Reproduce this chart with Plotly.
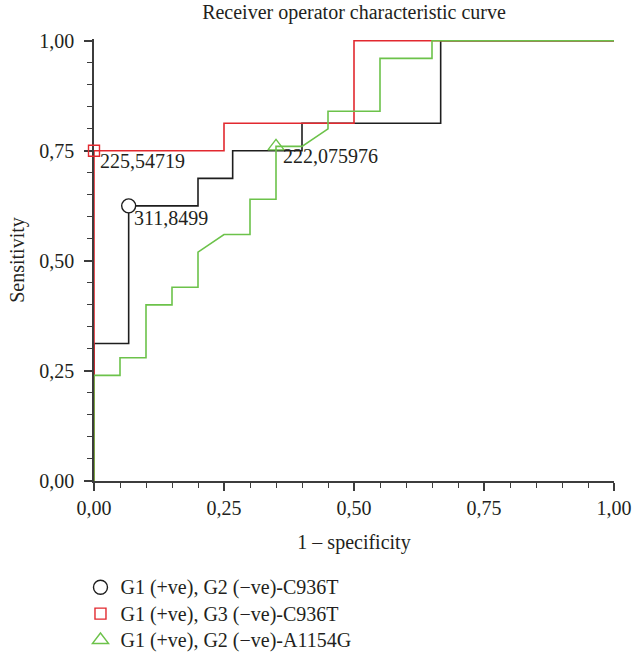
import plotly.graph_objects as go

# ROC curve vertices (1 - specificity, sensitivity)
black_fpr = [0, 0, 1/15, 1/15, 0.2, 0.2, 4/15, 4/15, 0.4, 0.4, 2/3, 2/3, 1]
black_tpr = [0, 0.3125, 0.3125, 0.625, 0.625, 0.6875, 0.6875, 0.75, 0.75, 0.8125, 0.8125, 1, 1]

red_fpr = [0, 0, 0.25, 0.25, 0.5, 0.5, 1]
red_tpr = [0, 0.75, 0.75, 0.8125, 0.8125, 1, 1]

green_fpr = [0, 0, 0.05, 0.05, 0.1, 0.1, 0.15, 0.15, 0.2, 0.2, 0.25, 0.3, 0.3,
             0.35, 0.35, 0.4, 0.45, 0.45, 0.55, 0.55, 0.65, 0.65, 1]
green_tpr = [0, 0.24, 0.24, 0.28, 0.28, 0.40, 0.40, 0.44, 0.44, 0.52, 0.56, 0.56, 0.64,
             0.64, 0.76, 0.76, 0.80, 0.84, 0.84, 0.96, 0.96, 1, 1]

# optimal cut-off points
cut_names = ["G1 (+ve), G2 (\u2212ve)-C936T", "G1 (+ve), G3 (\u2212ve)-C936T", "G1 (+ve), G2 (\u2212ve)-A1154G"]
cut_fpr = [1/15, 0, 0.35]
cut_tpr = [0.625, 0.75, 0.76]
cut_labels = ["311,8499", "225,54719", "222,075976"]

tick_vals = [0, 0.25, 0.5, 0.75, 1]

FONT = "Liberation Serif"
TXT = "#231f20"
colors = ["#1e1e1e", "#e2292f", "#6cc24a"]
symbols = ["circle", "square-open", "triangle-up-open"]
msizes = [14, 11, 14]

fig = go.Figure()
curves = [(black_fpr, black_tpr), (red_fpr, red_tpr), (green_fpr, green_tpr)]
for i in range(3):
    fx, fy = curves[i]
    fig.add_trace(go.Scatter(x=fx, y=fy, mode="lines",
                             line=dict(color=colors[i], width=1.6),
                             showlegend=False, hoverinfo="skip"))

for i in range(3):
    fig.add_trace(go.Scatter(
        x=[cut_fpr[i]], y=[cut_tpr[i]], mode="markers",
        name='<span style="font-size:20px">' + cut_names[i] + '</span>',
        cliponaxis=False, hoverinfo="skip",
        marker=dict(symbol=symbols[i], size=msizes[i],
                    color="white" if i == 0 else colors[i],
                    line=dict(color=colors[i], width=1.4)),
    ))

shifts = [(3, -12), (4, -10), (5, -10)]
for i in range(3):
    fig.add_annotation(x=cut_fpr[i], y=cut_tpr[i], text=cut_labels[i],
                       showarrow=False, xanchor="left", yanchor="middle",
                       xshift=shifts[i][0], yshift=shifts[i][1],
                       font=dict(family=FONT, size=20, color=TXT))

axis_common = dict(
    showline=True, linecolor="#3c3c3c", linewidth=1.5,
    ticks="outside", ticklen=8, tickwidth=1.5, tickcolor="#3c3c3c",
    tickvals=tick_vals, tickformat=".2f", automargin=False,
    minor=dict(dtick=0.05, tick0=0, ticks="outside", ticklen=5, tickwidth=1.2, tickcolor="#3c3c3c"),
    showgrid=False, zeroline=False, layer="below traces",
    tickfont=dict(family=FONT, size=20, color=TXT),
)

fig.update_layout(
    width=633, height=652,
    margin=dict(l=94, r=19, t=39, b=171, autoexpand=False),
    paper_bgcolor="white", plot_bgcolor="white",
    separators=", ",
    font=dict(family=FONT, size=20, color=TXT),
    title=dict(text="Receiver operator characteristic curve", x=0.5, xref="paper",
               xanchor="center", y=1 - 12 / 652, yref="container", yanchor="middle",
               font=dict(family=FONT, size=20, color=TXT)),
    xaxis=dict(range=[0, 1], title=dict(text="1 \u2013 specificity", standoff=17,
               font=dict(family=FONT, size=20, color=TXT)), **axis_common),
    yaxis=dict(range=[0, 1.004], ticklabelstandoff=6,
               title=dict(text="Sensitivity", standoff=9,
               font=dict(family=FONT, size=20, color=TXT)), **axis_common),
    legend=dict(x=-0.026, xanchor="left", y=1 - 569 / 652, yref="container", yanchor="top",
                font=dict(family=FONT, size=18, color=TXT), bgcolor="rgba(0,0,0,0)"),
)

fig.write_html("out.html", config={"displayModeBar": False},
               post_script="document.body.style.margin='0';document.body.style.overflow='hidden';")
